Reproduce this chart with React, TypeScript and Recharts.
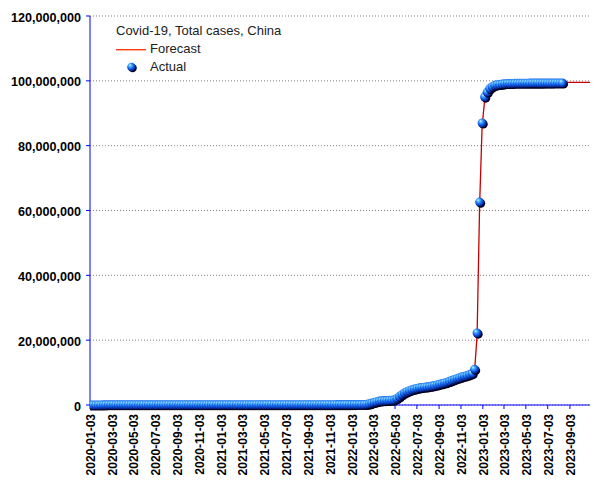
import { ComposedChart, Line, Scatter, XAxis, YAxis, CartesianGrid, Legend } from 'recharts';

// x axis starts here; weekly reports start two days later
const AXIS_START = '2020-01-03';
const FIRST_REPORT = '2020-01-05';
const AXIS_END_DAY = 1395;

const tickDates = [
  '2020-01-03', '2020-03-03', '2020-05-03', '2020-07-03', '2020-09-03', '2020-11-03',
  '2021-01-03', '2021-03-03', '2021-05-03', '2021-07-03', '2021-09-03', '2021-11-03',
  '2022-01-03', '2022-03-03', '2022-05-03', '2022-07-03', '2022-09-03', '2022-11-03',
  '2023-01-03', '2023-03-03', '2023-05-03', '2023-07-03', '2023-09-03',
];

const yTicks = [0, 20000000, 40000000, 60000000, 80000000, 100000000, 120000000];

// weekly cumulative cases, millions
const actualCases = [
  0, 0, 0, 0.002, 0.017, 0.04, 0.068, 0.077, 0.08, 0.081,
  0.081, 0.082, 0.082, 0.083, 0.084, 0.084, 0.084, 0.084, 0.084, 0.084,
  0.084, 0.084, 0.085, 0.085, 0.085, 0.085, 0.085, 0.085, 0.086, 0.087,
  0.088, 0.089, 0.089, 0.09, 0.09, 0.09, 0.09, 0.09, 0.091, 0.091,
  0.091, 0.091, 0.091, 0.092, 0.092, 0.092, 0.093, 0.094, 0.094, 0.095,
  0.095, 0.096, 0.097, 0.098, 0.099, 0.1, 0.1, 0.1, 0.1, 0.1,
  0.101, 0.101, 0.101, 0.101, 0.101, 0.102, 0.102, 0.102, 0.102, 0.102,
  0.102, 0.103, 0.103, 0.103, 0.103, 0.104, 0.104, 0.105, 0.105, 0.106,
  0.107, 0.107, 0.108, 0.108, 0.108, 0.108, 0.109, 0.109, 0.109, 0.109,
  0.11, 0.11, 0.111, 0.111, 0.112, 0.113, 0.114, 0.115, 0.116, 0.118,
  0.12, 0.122, 0.125, 0.128, 0.14, 0.14, 0.15, 0.15, 0.15, 0.16,
  0.2, 0.35, 0.6, 0.8, 1.0, 1.2, 1.3, 1.35, 1.4, 1.45,
  1.5, 1.6, 2.0, 2.6, 3.2, 3.7, 4.1, 4.4, 4.7, 4.9,
  5.1, 5.3, 5.4, 5.5, 5.6, 5.7, 5.85, 6.0, 6.2, 6.4,
  6.6, 6.8, 7.0, 7.3, 7.6, 7.9, 8.2, 8.4, 8.7, 8.9,
  9.1, 9.4, 9.7, 11.0, 22.2, 62.6, 87.0, 95.0, 96.5, 97.6,
  98.2, 98.6, 98.8, 98.9, 99.0, 99.1, 99.2, 99.2, 99.2, 99.25,
  99.25, 99.26, 99.27, 99.28, 99.29, 99.3, 99.3, 99.3, 99.31, 99.31,
  99.31, 99.32, 99.32, 99.32, 99.32, 99.33, 99.33, 99.33, 99.33,
];

const forecastCases = [
  0, 0, 0, 0.001, 0.012, 0.035, 0.062, 0.075, 0.079, 0.08,
  0.081, 0.081, 0.082, 0.082, 0.083, 0.083, 0.084, 0.084, 0.084, 0.084,
  0.084, 0.084, 0.084, 0.085, 0.085, 0.085, 0.085, 0.085, 0.085, 0.086,
  0.087, 0.088, 0.089, 0.089, 0.09, 0.09, 0.09, 0.09, 0.09, 0.091,
  0.091, 0.091, 0.091, 0.091, 0.092, 0.092, 0.092, 0.093, 0.094, 0.094,
  0.095, 0.095, 0.096, 0.097, 0.098, 0.099, 0.1, 0.1, 0.1, 0.1,
  0.1, 0.101, 0.101, 0.101, 0.101, 0.101, 0.102, 0.102, 0.102, 0.102,
  0.102, 0.102, 0.103, 0.103, 0.103, 0.103, 0.104, 0.104, 0.105, 0.105,
  0.106, 0.107, 0.107, 0.108, 0.108, 0.108, 0.108, 0.109, 0.109, 0.109,
  0.109, 0.11, 0.11, 0.111, 0.111, 0.112, 0.113, 0.114, 0.115, 0.116,
  0.118, 0.12, 0.122, 0.125, 0.13, 0.14, 0.14, 0.15, 0.15, 0.16,
  0.25, 0.45, 0.7, 0.9, 1.1, 1.25, 1.35, 1.4, 1.45, 1.5,
  1.55, 1.7, 2.1, 2.7, 3.2, 3.6, 3.9, 4.2, 4.4, 4.6,
  4.8, 5.0, 5.1, 5.25, 5.4, 5.5, 5.65, 5.8, 6.0, 6.2,
  6.4, 6.6, 6.8, 7.1, 7.4, 7.7, 8.0, 8.3, 8.5, 8.8,
  9.0, 9.3, 9.6, 10.6, 21.5, 61.5, 86.0, 94.0, 95.8, 96.8,
  97.5, 97.9, 98.2, 98.4, 98.6, 98.7, 98.8, 98.9, 98.9, 99.0,
  99.0, 99.0, 99.0, 99.0, 99.05, 99.05, 99.1, 99.1, 99.1, 99.1,
  99.1, 99.15, 99.15, 99.2, 99.2, 99.2, 99.25, 99.4, 99.5, 99.5,
  99.5, 99.5, 99.5, 99.5, 99.5, 99.5, 99.5, 99.5, 99.5, 99.5,
];

const DAY = 86400000;
const dayOf = (s: string) => Math.round((Date.parse(s) - Date.parse(AXIS_START)) / DAY);
const dateOf = (d: number) => new Date(Date.parse(AXIS_START) + d * DAY).toISOString().slice(0, 10);

const firstDay = dayOf(FIRST_REPORT);
const xTicks = tickDates.map(dayOf);

const data = forecastCases.map((f, i) => ({
  t: firstDay + i * 7,
  forecast: f * 1e6,
  actual: i < actualCases.length ? actualCases[i] * 1e6 : null,
}));

const FONT = '"Liberation Sans", Arial, sans-serif';
const AXIS_BLUE = '#0000ff';
const LINE_RED = '#c80000';

function BallGradient({ id }: { id: string }) {
  return (
    <radialGradient id={id} cx="0.42" cy="0.38" r="0.62" fx="0.32" fy="0.28">
      <stop offset="0" stopColor="#e6f8ff" />
      <stop offset="0.22" stopColor="#58bcff" />
      <stop offset="0.6" stopColor="#1262ee" />
      <stop offset="1" stopColor="#001470" />
    </radialGradient>
  );
}

function Ball(props: any) {
  const { cx, cy, payload } = props;
  if (payload == null || payload.actual == null || cx == null || cy == null) return <g />;
  return (
    <g>
      <circle cx={cx + 1.2} cy={cy + 1.2} r={4.4} fill="#00001e" />
      <circle cx={cx} cy={cy} r={4.5} fill="url(#ballFill)" />
    </g>
  );
}

function XTick(props: any) {
  const { x, y, payload } = props;
  const bx = x + 5;
  return (
    <text
      x={bx}
      y={y}
      transform={`rotate(-90, ${bx}, ${y})`}
      textAnchor="end"
      fontFamily={FONT}
      fontSize={12}
      fontWeight="bold"
      fill="#000"
    >
      {dateOf(payload.value)}
    </text>
  );
}

function YTick(props: any) {
  const { x, y, payload } = props;
  return (
    <text x={x} y={y + 5.5} textAnchor="end" fontFamily={FONT} fontSize={12.6} fontWeight="bold" fill="#000">
      {payload.value.toLocaleString('en-US')}
    </text>
  );
}

function ChartLegend() {
  return (
    <div style={{ fontFamily: FONT, fontSize: 13, color: '#222', lineHeight: '18px', whiteSpace: 'nowrap' }}>
      <div>Covid-19, Total cases, China</div>
      <div style={{ display: 'flex', alignItems: 'center', height: 18 }}>
        <svg width={34} height={18} style={{ display: 'block' }}>
          <rect x={0} y={9} width={30} height={1.4} fill="#ff3a10" />
        </svg>
        Forecast
      </div>
      <div style={{ display: 'flex', alignItems: 'center', height: 18 }}>
        <svg width={34} height={18} style={{ display: 'block' }}>
          <defs>
            <BallGradient id="legendBall" />
          </defs>
          <circle cx={16.6} cy={10.1} r={4.2} fill="#00001e" />
          <circle cx={15.5} cy={9} r={4.3} fill="url(#legendBall)" />
        </svg>
        Actual
      </div>
    </div>
  );
}

export default function App() {
  return (
    <div style={{ position: 'absolute', left: 0, top: 0, width: 605, height: 480, background: '#fff' }}>
      <ComposedChart width={605} height={480} data={data} margin={{ top: 16, right: 15, bottom: 0, left: 0 }}>
        <defs>
          <BallGradient id="ballFill" />
        </defs>
        <CartesianGrid vertical={false} stroke="#808080" strokeDasharray="1 2" />
        <XAxis
          dataKey="t"
          type="number"
          domain={[0, AXIS_END_DAY]}
          ticks={xTicks}
          interval={0}
          height={75}
          tickSize={4}
          tickMargin={5}
          axisLine={{ stroke: AXIS_BLUE }}
          tickLine={{ stroke: AXIS_BLUE }}
          tick={<XTick />}
          allowDataOverflow
        />
        <YAxis
          type="number"
          domain={[0, 120000000]}
          ticks={yTicks}
          interval={0}
          width={90}
          tickSize={4}
          tickMargin={5}
          axisLine={{ stroke: AXIS_BLUE }}
          tickLine={{ stroke: AXIS_BLUE }}
          tick={<YTick />}
        />
        <Legend
          layout="vertical"
          align="center"
          verticalAlign="middle"
          content={() => <ChartLegend />}
          wrapperStyle={{ left: 116, top: 22, width: 220, height: 54 }}
        />
        <Scatter name="Actual" dataKey="actual" shape={<Ball />} isAnimationActive={false} />
        <Line
          name="Forecast"
          dataKey="forecast"
          type="linear"
          stroke={LINE_RED}
          strokeWidth={1.3}
          dot={false}
          activeDot={false}
          isAnimationActive={false}
        />
      </ComposedChart>
    </div>
  );
}
